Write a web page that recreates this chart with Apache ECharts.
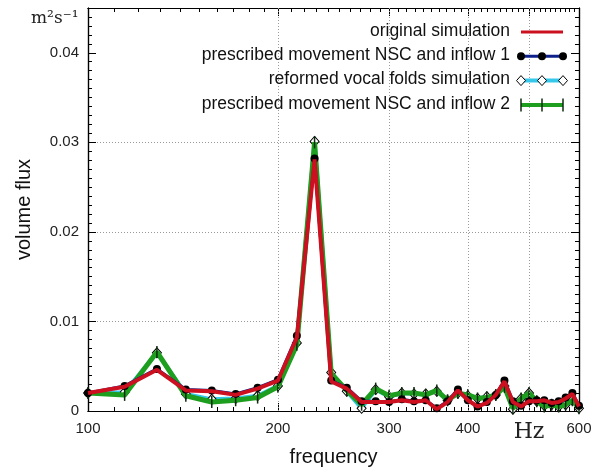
<!DOCTYPE html>
<html>
<head>
<meta charset="utf-8">
<script src="https://cdn.jsdelivr.net/npm/echarts@6/dist/echarts.min.js"></script>
<style>
  html, body { margin: 0; padding: 0; background: #fff; }
  #chart { width: 592px; height: 470px; }
</style>
</head>
<body>
<div id="chart"></div>
<script>
// Frequency bins (Hz), spacing 100/7 Hz
const freqs = [100, 114.3, 128.6, 142.9, 157.1, 171.4, 185.7, 200, 214.3, 228.6, 242.9, 257.1,
  271.4, 285.7, 300, 314.3, 328.6, 342.9, 357.1, 371.4, 385.7, 400, 414.3, 428.6,
  442.9, 457.1, 471.4, 485.7, 500, 514.3, 528.6, 542.9, 557.1, 571.4, 585.7, 600];

// Volume flux amplitude (m^2 s^-1)
const originalSim = [0.0020, 0.0027, 0.0046, 0.0023, 0.0022, 0.0018, 0.0025, 0.0034, 0.0082, 0.0281, 0.0033, 0.0025,
  0.0010, 0.0010, 0.0010, 0.0012, 0.0010, 0.0012, 0.0002, 0.0010, 0.0023, 0.0012, 0.0005, 0.0009,
  0.0018, 0.0033, 0.0010, 0.0005, 0.0011, 0.0011, 0.0012, 0.0009, 0.0010, 0.0014, 0.0019, 0.0005];

const inflow1 = [0.0020, 0.0028, 0.0047, 0.0024, 0.0023, 0.0019, 0.0026, 0.0035, 0.0084, 0.0282, 0.0034, 0.0026,
  0.0011, 0.0011, 0.0010, 0.0013, 0.0011, 0.0012, 0.0003, 0.0011, 0.0024, 0.0012, 0.0005, 0.0010,
  0.0018, 0.0034, 0.0011, 0.0006, 0.0011, 0.0012, 0.0012, 0.0009, 0.0011, 0.0015, 0.0020, 0.0006];

const reformedSim = [0.0020, 0.0021, 0.0065, 0.0019, 0.0013, 0.0014, 0.0017, 0.0028, 0.0076, 0.0301, 0.0043, 0.0022,
  0.0003, 0.0024, 0.0016, 0.0020, 0.0019, 0.0019, 0.0022, 0.0012, 0.0020, 0.0017, 0.0014, 0.0016,
  0.0018, 0.0028, 0.0002, 0.0014, 0.0020, 0.0011, 0.0006, 0.0007, 0.0005, 0.0007, 0.0012, 0.0003];

const inflow2 = [0.0020, 0.0018, 0.0066, 0.0017, 0.0010, 0.0012, 0.0015, 0.0027, 0.0074, 0.0300, 0.0042, 0.0023,
  0.0007, 0.0025, 0.0017, 0.0020, 0.0020, 0.0018, 0.0023, 0.0012, 0.0020, 0.0018, 0.0014, 0.0015,
  0.0018, 0.0027, 0.0003, 0.0014, 0.0020, 0.0011, 0.0005, 0.0007, 0.0005, 0.0007, 0.0012, 0.0003];

// Axis ticks and labels
const xMajorTicks = [100, 200, 300, 400, 500, 600];
const xTickLabels = ['100', '200', '300', '400', 'Hz', '600'];
const xGridLines = [200, 300, 400, 500];
const yTickLabels = ['0', '0.01', '0.02', '0.03', '0.04'];

const xMinorTicks = [];
for (let f = 110; f < 600; f += 10) if (f % 100 !== 0) xMinorTicks.push(f);

const pairs = vals => freqs.map((f, i) => [f, vals[i]]);

const SANS = '"Liberation Sans", Arial, sans-serif';
const SERIF = '"DejaVu Serif", "Liberation Serif", serif';

const RED = '#cc1020', NAVY = '#0c1f8a', CYAN = '#35c8ea', GREEN = '#1e9e1e', MARK = '#0d2a0d';

function xAxisDef(position, ticks, len, withLabels) {
  return {
    type: 'log', logBase: 10, min: 100, max: 600, position: position,
    axisLine: { show: true, onZero: false, lineStyle: { color: '#000', width: 1.2 } },
    axisTick: { show: true, inside: true, length: len, customValues: ticks, lineStyle: { color: '#000', width: 1 } },
    axisLabel: withLabels ? {
      show: true, customValues: xMajorTicks, margin: 10,
      fontSize: 15, fontFamily: SANS, color: '#222',
      formatter: v => {
        const i = xMajorTicks.indexOf(Math.round(v));
        const t = i >= 0 ? xTickLabels[i] : '';
        return t === 'Hz' ? '{hz|Hz}' : t;
      },
      rich: { hz: { fontFamily: SERIF, fontSize: 22, color: '#222' } }
    } : { show: false },
    splitLine: { show: false },
    name: withLabels && position === 'bottom' ? 'frequency' : '',
    nameLocation: 'middle', nameGap: 31,
    nameTextStyle: { fontSize: 20, fontFamily: SANS, color: '#111' }
  };
}

function yAxisDef(position, step, len, withLabels, grid) {
  return {
    type: 'value', min: 0, max: 0.045, interval: step, position: position,
    axisLine: { show: true, onZero: false, lineStyle: { color: '#000', width: 1.2 } },
    axisTick: { show: true, inside: true, length: len, lineStyle: { color: '#000', width: 1 } },
    axisLabel: withLabels ? {
      show: true, margin: 9, showMaxLabel: false,
      fontSize: 15, fontFamily: SANS, color: '#222',
      formatter: v => {
        const i = Math.round(v * 100);
        return Math.abs(v * 100 - i) < 1e-6 && i < yTickLabels.length ? yTickLabels[i] : '';
      }
    } : { show: false },
    splitLine: grid ? { show: true, lineStyle: { color: '#9a9a9a', type: [1, 2], width: 1 } } : { show: false },
    name: withLabels ? 'volume flux' : '',
    nameLocation: 'middle', nameGap: 54, nameRotate: 90,
    nameTextStyle: { fontSize: 20, fontFamily: SANS, color: '#111' }
  };
}

// Key box: right-aligned labels with line samples to their right
const keyEntries = [
  { label: 'original simulation', line: RED, width: 3, marker: 'none' },
  { label: 'prescribed movement NSC and inflow 1', line: NAVY, width: 3, marker: 'dot' },
  { label: 'reformed vocal folds simulation', line: CYAN, width: 4, marker: 'diamond' },
  { label: 'prescribed movement NSC and inflow 2', line: GREEN, width: 4, marker: 'bar' }
];
const KEY_TEXT_RIGHT = 510, KEY_X0 = 521, KEY_X1 = 563, KEY_TOP = 31, KEY_STEP = 24.3;

function keyGraphics() {
  const out = [];
  keyEntries.forEach((e, i) => {
    const y = KEY_TOP + i * KEY_STEP;
    out.push({
      type: 'text', z: 20, silent: true,
      style: { text: e.label, x: KEY_TEXT_RIGHT, y: y, align: 'right', verticalAlign: 'middle',
        fontFamily: SANS, fontSize: 17.5, fill: '#111' }
    });
    out.push({
      type: 'line', z: 20, silent: true,
      shape: { x1: KEY_X0, y1: y + 1, x2: KEY_X1, y2: y + 1 },
      style: { stroke: e.line, lineWidth: e.width }
    });
    const xs = [KEY_X0, (KEY_X0 + KEY_X1) / 2, KEY_X1];
    xs.forEach(x => {
      if (e.marker === 'dot') {
        out.push({ type: 'circle', z: 21, silent: true, shape: { cx: x, cy: y + 1, r: 4 }, style: { fill: '#000' } });
      } else if (e.marker === 'diamond') {
        out.push({ type: 'polygon', z: 21, silent: true,
          shape: { points: [[x, y - 4], [x + 4.5, y + 1], [x, y + 6], [x - 4.5, y + 1]] },
          style: { fill: '#fff', stroke: '#000', lineWidth: 1 } });
      } else if (e.marker === 'bar') {
        out.push({ type: 'rect', z: 21, silent: true, shape: { x: x - 0.75, y: y - 5.5, width: 1.5, height: 13 },
          style: { fill: MARK } });
      }
    });
  });
  return out;
}

const chart = echarts.init(document.getElementById('chart'), null, { renderer: 'canvas' });

chart.setOption({
  backgroundColor: '#fff',
  animation: false,
  grid: { left: 88, right: 13, top: 8, bottom: 59, show: false, outerBoundsMode: 'none', containLabel: false },
  xAxis: [
    xAxisDef('bottom', xMajorTicks, 8, true),
    xAxisDef('bottom', xMinorTicks, 4, false),
    xAxisDef('top', xMajorTicks, 8, false),
    xAxisDef('top', xMinorTicks, 4, false)
  ],
  yAxis: [
    yAxisDef('left', 0.01, 8, true, true),
    yAxisDef('left', 0.001, 4, false, false),
    yAxisDef('right', 0.01, 8, false, false),
    yAxisDef('right', 0.001, 4, false, false)
  ],
  graphic: [
    {
      type: 'rect', z: 3.5, silent: true,
      shape: { x: 97, y: 17, width: 472, height: 100 },
      style: { fill: '#fff' }
    },
    {
      type: 'text', left: 31, top: 10, z: 10,
      style: { text: 'm²s⁻¹', fontFamily: SERIF, fontSize: 17, fill: '#222' }
    }
  ].concat(keyGraphics()),
  series: [
    {
      name: 'reformed vocal folds simulation', type: 'line', z: 3,
      data: pairs(reformedSim),
      symbol: 'diamond', symbolSize: [9, 10], showAllSymbol: true,
      lineStyle: { color: CYAN, width: 4 },
      itemStyle: { color: '#fff', borderColor: '#000', borderWidth: 1 },
      markLine: {
        silent: true, symbol: 'none', label: { show: false },
        lineStyle: { color: '#9a9a9a', type: [1, 2], width: 1 },
        data: xGridLines.map(v => ({ xAxis: v }))
      }
    },
    {
      name: 'prescribed movement NSC and inflow 2', type: 'line', z: 4,
      data: pairs(inflow2),
      symbol: 'rect', symbolSize: [1.5, 12], showAllSymbol: true,
      lineStyle: { color: GREEN, width: 5 },
      itemStyle: { color: MARK }
    },
    {
      name: 'prescribed movement NSC and inflow 1', type: 'line', z: 5,
      data: pairs(inflow1),
      symbol: 'circle', symbolSize: 8, showAllSymbol: true,
      lineStyle: { color: NAVY, width: 3 },
      itemStyle: { color: '#000' }
    },
    {
      name: 'original simulation', type: 'line', z: 6,
      data: pairs(originalSim),
      symbol: 'none',
      lineStyle: { color: RED, width: 4 },
      itemStyle: { color: RED }
    }
  ]
});
</script>
</body>
</html>
